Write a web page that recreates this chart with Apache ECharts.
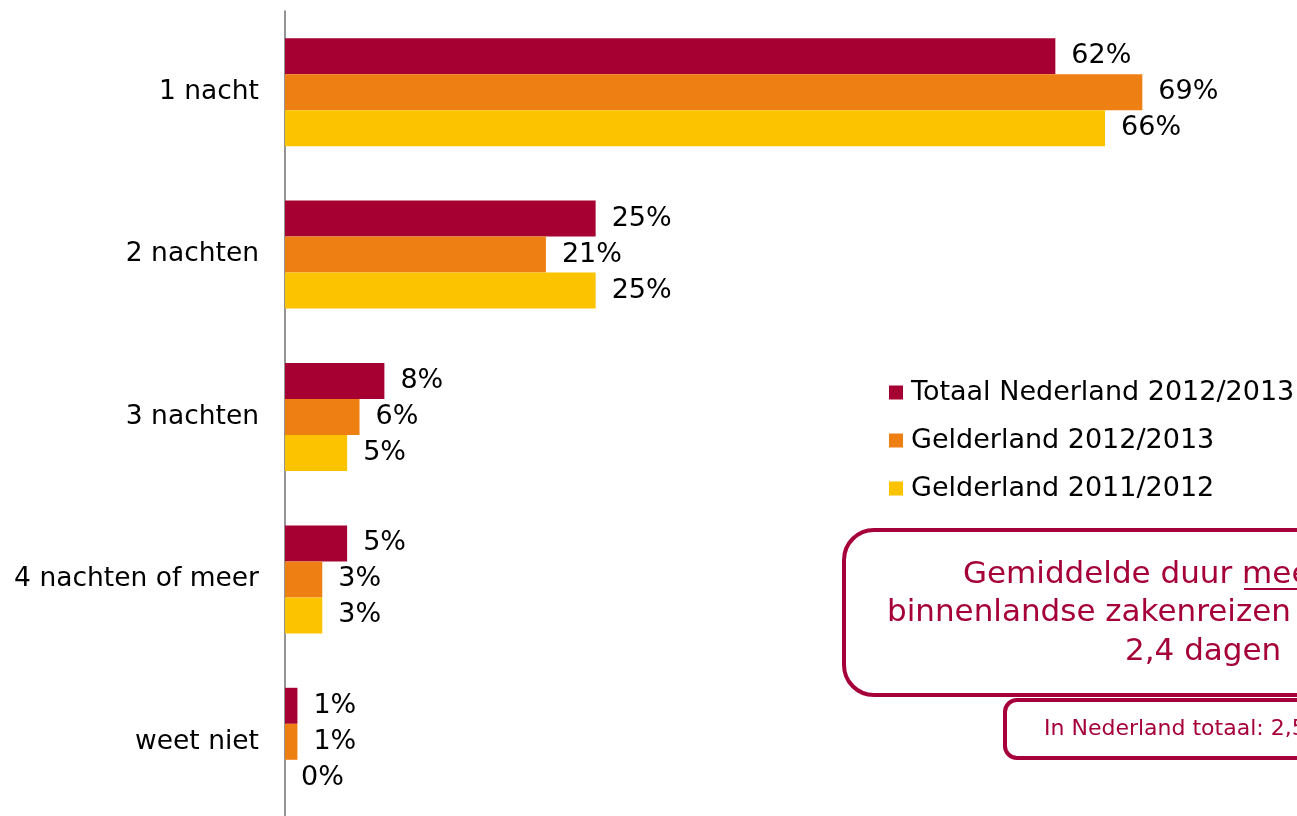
<!DOCTYPE html>
<html>
<head>
<meta charset="utf-8">
<title>Verblijfsduur zakenreizen</title>
<script src="https://cdn.jsdelivr.net/npm/echarts@6/dist/echarts.min.js"></script>
<style>
  html, body { margin: 0; padding: 0; background: #fff; overflow: hidden; }
  /* iets hoger dan het venster: de as loopt onderaan door tot de rand */
  #main { width: 1297px; height: 830px; }
</style>
</head>
<body>
<div id="main"></div>
<script>
// categorieen en waarden (in %)
const categories = ['1 nacht', '2 nachten', '3 nachten', '4 nachten of meer', 'weet niet']
const seriesNames = ['Totaal Nederland 2012/2013', 'Gelderland 2012/2013', 'Gelderland 2011/2012']
const totaalNL1213 = [62, 25, 8, 5, 1]
const gelderland1213 = [69, 21, 6, 3, 1]
const gelderland1112 = [66, 25, 5, 3, 0]
const colors = ['#A60033', '#EE7F13', '#FBC300']

const fontFamily = '"DejaVu Sans", Verdana, sans-serif'
const boxColor = '#A6003A'

function barSeries(name, data, color) {
  return {
    name: name,
    type: 'bar',
    data: data,
    barWidth: 36,
    barGap: 0,
    itemStyle: { color: color },
    label: {
      show: true,
      position: 'right',
      distance: 16,
      formatter: '{c}%',
      color: '#000',
      fontSize: 27,
      fontFamily: fontFamily,
      padding: [3, 0, 0, 0]
    }
  }
}

const option = {
  animation: false,
  backgroundColor: '#fff',
  grid: {
    left: 285,
    top: 11,
    width: 994,
    height: 812
  },
  legend: {
    orient: 'vertical',
    left: 884,
    top: 374,
    itemWidth: 14,
    itemHeight: 14,
    itemGap: 21,
    icon: 'rect',
    data: seriesNames,
    textStyle: {
      fontSize: 27,
      lineHeight: 27,
      color: '#000',
      fontFamily: fontFamily,
      padding: [0, 0, 0, 3]
    }
  },
  xAxis: {
    type: 'value',
    min: 0,
    max: 80,
    show: false
  },
  yAxis: {
    type: 'category',
    data: categories,
    inverse: true,
    axisLine: { show: true, lineStyle: { color: '#707070', width: 1.5 } },
    axisTick: { show: false },
    axisLabel: {
      margin: 26,
      fontSize: 26.5,
      color: '#000',
      fontFamily: fontFamily,
      padding: [3, 0, 0, 0]
    }
  },
  series: [
    barSeries(seriesNames[0], totaalNL1213, colors[0]),
    barSeries(seriesNames[1], gelderland1213, colors[1]),
    barSeries(seriesNames[2], gelderland1112, colors[2])
  ],
  graphic: [
    // grote kader
    {
      type: 'rect',
      shape: { x: 844, y: 530, width: 700, height: 165, r: 30 },
      style: { fill: '#fff', stroke: boxColor, lineWidth: 4 }
    },
    {
      type: 'text',
      x: 963, y: 575,
      style: { text: 'Gemiddelde duur meerdaagse', fill: boxColor, fontSize: 31, fontFamily: fontFamily, verticalAlign: 'middle' }
    },
    {
      type: 'line',
      shape: { x1: 1244, y1: 589, x2: 1400, y2: 589 },
      style: { stroke: boxColor, lineWidth: 2 }
    },
    {
      type: 'text',
      x: 887, y: 613,
      style: { text: 'binnenlandse zakenreizen Gelderland:', fill: boxColor, fontSize: 31, fontFamily: fontFamily, verticalAlign: 'middle' }
    },
    {
      type: 'text',
      x: 1125, y: 652,
      style: { text: '2,4 dagen', fill: boxColor, fontSize: 31, fontFamily: fontFamily, verticalAlign: 'middle' }
    },
    // kleine kader
    {
      type: 'rect',
      shape: { x: 1005, y: 700, width: 500, height: 58, r: 12 },
      style: { fill: '#fff', stroke: boxColor, lineWidth: 4 }
    },
    {
      type: 'text',
      x: 1044, y: 729,
      style: { text: 'In Nederland totaal: 2,5 dagen', fill: boxColor, fontSize: 22, fontFamily: fontFamily, verticalAlign: 'middle' }
    }
  ]
}

const chart = echarts.init(document.getElementById('main'))
chart.setOption(option)
</script>
</body>
</html>
